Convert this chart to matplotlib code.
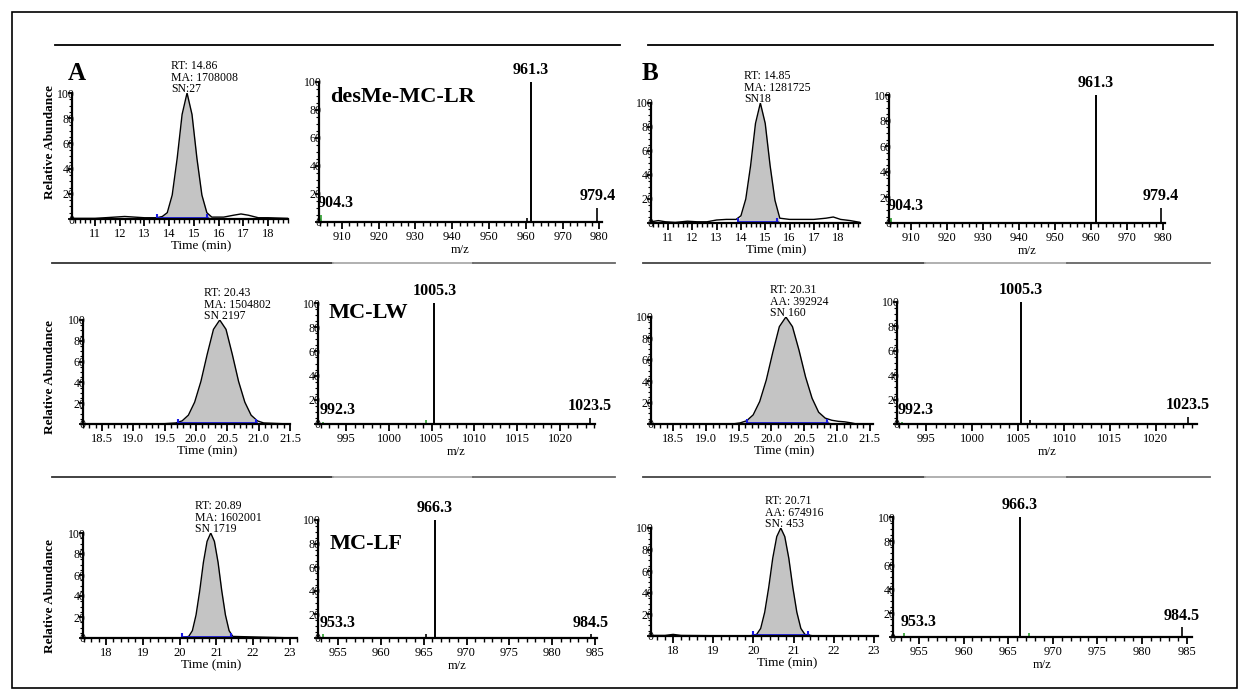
import matplotlib
matplotlib.use("Agg")
import matplotlib.pyplot as plt
import numpy as np
from matplotlib.ticker import MultipleLocator, FormatStrFormatter
from matplotlib.lines import Line2D
from matplotlib.patches import Rectangle

plt.rcParams['font.family'] = ['Liberation Serif', 'DejaVu Serif']

W, H = 1250, 699

# ---- chromatograms: time (min) / relative abundance ----
chromA1_t = [10.1, 11.0, 11.8, 12.2, 12.6, 13.0, 13.5, 13.72, 13.92, 14.12, 14.32, 14.52, 14.72,
             14.92, 15.12, 15.32, 15.52, 15.72, 16.2, 16.6, 16.9, 17.2, 17.6, 18.0, 18.8]
chromA1_i = [0.5, 0.5, 1.5, 2, 1.5, 1, 1, 2, 5, 19, 48, 83, 100, 83, 48, 19, 5, 1.5, 1.5, 3, 4, 3, 1, 1, 0.5]
chromA1_bar = [13.5, 15.52]

chromB1_t = [10.3, 10.6, 10.9, 11.3, 11.8, 12.2, 12.6, 13.0, 13.4, 13.8, 14.0, 14.2, 14.4, 14.6, 14.8,
             15.0, 15.2, 15.4, 15.6, 16.0, 16.5, 17.0, 17.5, 17.8, 18.1, 18.5, 18.9]
chromB1_i = [1, 2, 1, 0.5, 1.5, 1, 1, 2.5, 3, 3, 6, 20, 48, 83, 100, 83, 48, 19, 4, 3, 3, 3, 4, 5, 3, 2, 0.5]
chromB1_bar = [13.9, 15.5]

chromA2_t = [18.2, 19.5, 19.68, 19.78, 19.88, 19.98, 20.08, 20.18, 20.28, 20.38, 20.48, 20.58, 20.68,
             20.78, 20.88, 20.98, 21.08, 21.5]
chromA2_i = [0, 0.3, 1, 3, 8.5, 21, 41, 67, 91, 100, 91, 67, 41, 21, 8.5, 3, 1, 0]
chromA2_bar = [19.72, 20.96]

chromB2_t = [18.16, 19.4, 19.52, 19.62, 19.72, 19.82, 19.92, 20.02, 20.12, 20.22, 20.32, 20.42, 20.52,
             20.62, 20.72, 20.82, 20.92, 21.02, 21.12, 21.22, 21.3, 21.55]
chromB2_i = [0, 0, 1, 3, 8.5, 21, 41, 67, 91, 100, 91, 69, 44, 24, 11, 5.5, 3.5, 2.5, 2, 1, 0, 0]
chromB2_bar = [19.62, 20.85]

chromA3_t = [17.37, 20.0, 20.25, 20.35, 20.45, 20.55, 20.65, 20.75, 20.85, 20.95, 21.05, 21.15,
             21.25, 21.35, 21.45, 23.2]
chromA3_i = [0, 0, 1.5, 7, 22, 45, 72, 92, 100, 92, 72, 45, 22, 7, 1.5, 0]
chromA3_bar = [20.06, 21.4]

chromB3_t = [17.45, 17.8, 18.0, 18.2, 19.9, 20.08, 20.18, 20.28, 20.38, 20.48, 20.58, 20.68, 20.78,
             20.88, 20.98, 21.08, 21.18, 21.28, 21.5, 23.1]
chromB3_i = [0.5, 0.5, 1.5, 0.5, 0, 1.5, 7, 22, 45, 72, 92, 100, 92, 72, 45, 22, 7, 1.5, 0, 0]
chromB3_bar = [19.98, 21.36]

notes = {
    'A1': "RT: 14.86\nMA: 1708008\nSN:27",
    'A2': "RT: 20.43\nMA: 1504802\nSN 2197",
    'A3': "RT: 20.89\nMA: 1602001\nSN 1719",
    'B1': "RT: 14.85\nMA: 1281725\nSN18",
    'B2': "RT: 20.31\nAA: 392924\nSN 160",
    'B3': "RT: 20.71\nAA: 674916\nSN: 453",
}

# ---- mass spectra: m/z / relative abundance ----
specA1_mz = [904.3, 960.4, 961.3, 979.4]
specA1_i = [5, 3, 100, 10]
specA1_green = [True, False, False, False]
specB1_mz = [904.3, 961.3, 979.4]
specB1_i = [4, 100, 12]
specB1_green = [True, False, False]
specA2_mz = [992.3, 1004.3, 1005.3, 1023.5]
specA2_i = [2, 3, 100, 5]
specA2_green = [True, True, False, False]
specB2_mz = [992.3, 1005.3, 1006.3, 1023.5]
specB2_i = [2, 100, 3, 6]
specB2_green = [True, False, False, False]
specA3_mz = [953.3, 965.3, 966.3, 984.5]
specA3_i = [3, 3, 100, 3]
specA3_green = [True, False, False, False]
specB3_mz = [953.3, 966.3, 967.3, 984.5]
specB3_i = [3, 100, 3, 8]
specB3_green = [True, False, True, False]

row1_labels = ["904.3", "961.3", "979.4"]
row2_labels = ["992.3", "1005.3", "1023.5"]
row3_labels = ["953.3", "966.3", "984.5"]
compounds = ["desMe-MC-LR", "MC-LW", "MC-LF"]

yticks = [0, 20, 40, 60, 80, 100]

fig = plt.figure(figsize=(W / 100, H / 100), dpi=100)


def px_axes(x0, x1, ytop, ybot):
    return fig.add_axes([x0 / W, 1 - ybot / H, (x1 - x0) / W, (ybot - ytop) / H])


def style(ax, xlim, major, minor, fmt):
    for s in ['top', 'right']:
        ax.spines[s].set_visible(False)
    ax.spines['left'].set_linewidth(1.6)
    ax.spines['bottom'].set_linewidth(1.6)
    ax.set_xlim(xlim)
    ax.set_ylim(0, 100)
    ax.xaxis.set_major_locator(MultipleLocator(major))
    ax.xaxis.set_minor_locator(MultipleLocator(minor))
    ax.xaxis.set_major_formatter(FormatStrFormatter(fmt))
    ax.set_yticks(yticks)
    ax.yaxis.set_minor_locator(MultipleLocator(5))
    ax.tick_params(axis='x', which='major', length=5, width=1.3, labelsize=9, pad=1.5)
    ax.tick_params(axis='x', which='minor', length=3, width=1)
    ax.tick_params(axis='y', which='major', length=3, width=1.3, labelsize=8.5, pad=-5)
    ax.tick_params(axis='y', which='minor', length=2, width=0.8)
    ax.patch.set_alpha(0)


def chrom(box, t, y, bar, xlim, major, minor, fmt, note):
    ax = px_axes(*box)
    t = np.array(t)
    y = np.array(y)
    inside = (t >= bar[0]) & (t <= bar[1])
    ax.fill_between(t, 0, y, where=inside, color='#c4c4c4', interpolate=True, lw=0)
    ax.plot(t, y, color='black', lw=1)
    ax.plot(bar, [1, 1], color='#1a1ae6', lw=2, marker='|', ms=6, mew=1.5)
    style(ax, xlim, major, minor, fmt)
    peak = t[np.argmax(y)]
    ax.annotate(note, xy=(peak, 100), xytext=(-11.5, -1.5), textcoords='offset points',
                ha='left', va='bottom', fontsize=8.5, linespacing=0.95, annotation_clip=False)
    ax.annotate("Time (min)", xy=(0.6, 0), xycoords='axes fraction', xytext=(0, -20),
                textcoords='offset points', ha='center', va='center', fontsize=9.5)
    return ax


def spec(box, mz, inten, green, labels, xlim, major, minor, name=None, name_y=0.9):
    ax = px_axes(*box)
    for m, v, g in zip(mz, inten, green):
        ax.vlines(m, 0, v, color='#2ca02c' if g else 'black', lw=1.4 if v > 50 else 1.2)
    for lab in labels:
        m = float(lab)
        v = inten[mz.index(m)]
        if m == mz[0]:
            ax.text(m - 0.4 * minor, v + 3, lab, ha='left', va='bottom', fontsize=11.5,
                    fontweight='bold', clip_on=False)
        else:
            ax.text(m, v + 3, lab, ha='center', va='bottom', fontsize=11.5,
                    fontweight='bold', clip_on=False)
    style(ax, xlim, major, minor, '%d')
    if name:
        ax.text(0.04, name_y, name, transform=ax.transAxes, ha='left', va='center',
                fontsize=16, fontweight='bold')
    ax.annotate("m/z", xy=(0.5, 0), xycoords='axes fraction', xytext=(0, -20),
                textcoords='offset points', ha='center', va='center', fontsize=9)
    return ax


# row 1
chrom((72, 288, 93, 219), chromA1_t, chromA1_i, chromA1_bar, (10.07, 18.8), 1, 0.2, '%d', notes['A1'])
spec((319, 602, 82, 222), specA1_mz, specA1_i, specA1_green, row1_labels, (903.8, 980.7), 10, 2,
     compounds[0], 0.89)
chrom((651, 860, 103, 223), chromB1_t, chromB1_i, chromB1_bar, (10.3, 18.9), 1, 0.2, '%d', notes['B1'])
spec((889, 1165, 95, 223), specB1_mz, specB1_i, specB1_green, row1_labels, (903.8, 980.5), 10, 2)

# row 2
chrom((83, 290, 320, 424), chromA2_t, chromA2_i, chromA2_bar, (18.2, 21.5), 0.5, 0.1, '%.1f', notes['A2'])
spec((318, 595, 303, 424), specA2_mz, specA2_i, specA2_green, row2_labels, (991.7, 1024.1), 5, 1,
     compounds[1], 0.92)
chrom((651, 873, 317, 424), chromB2_t, chromB2_i, chromB2_bar, (18.16, 21.55), 0.5, 0.1, '%.1f', notes['B2'])
spec((897, 1197, 302, 424), specB2_mz, specB2_i, specB2_green, row2_labels, (991.8, 1024.5), 5, 1)

# row 3
chrom((83, 297, 533, 638), chromA3_t, chromA3_i, chromA3_bar, (17.37, 23.2), 1, 0.2, '%d', notes['A3'])
spec((318, 597, 520, 638), specA3_mz, specA3_i, specA3_green, row3_labels, (952.7, 985.2), 5, 1,
     compounds[2], 0.80)
chrom((651, 878, 528, 636), chromB3_t, chromB3_i, chromB3_bar, (17.45, 23.1), 1, 0.2, '%d', notes['B3'])
spec((893, 1192, 517, 637), specB3_mz, specB3_i, specB3_green, row3_labels, (952.1, 985.6), 5, 1)

# y labels, panel letters
for yc in [142, 377, 596]:
    fig.text(50 / W, 1 - yc / H, "Relative Abundance", rotation=90, ha='center', va='center',
             fontsize=9.5, fontweight='bold')
fig.text(77 / W, 1 - 73 / H, "A", ha='center', va='center', fontsize=18, fontweight='bold')
fig.text(650 / W, 1 - 74 / H, "B", ha='center', va='center', fontsize=18, fontweight='bold')


# separator lines
def hline(x0, x1, y, color, lw=1.3):
    fig.add_artist(Line2D([x0 / W, x1 / W], [1 - y / H, 1 - y / H], color=color, lw=lw))


hline(55, 620, 45, 'black')
hline(648, 1213, 45, 'black')
for y in [263, 477]:
    hline(52, 333, y, '#333333')
    hline(333, 473, y, '#aaaaaa')
    hline(473, 615, y, '#666666')
    hline(643, 925, y, '#444444')
    hline(925, 1067, y, '#aaaaaa')
    hline(1067, 1210, y, '#666666')

fig.add_artist(Rectangle((12 / W, 11 / H), 1225 / W, 676 / H, fill=False, ec='black', lw=1.2,
                         transform=fig.transFigure))

fig.savefig("out.png", dpi=100)
